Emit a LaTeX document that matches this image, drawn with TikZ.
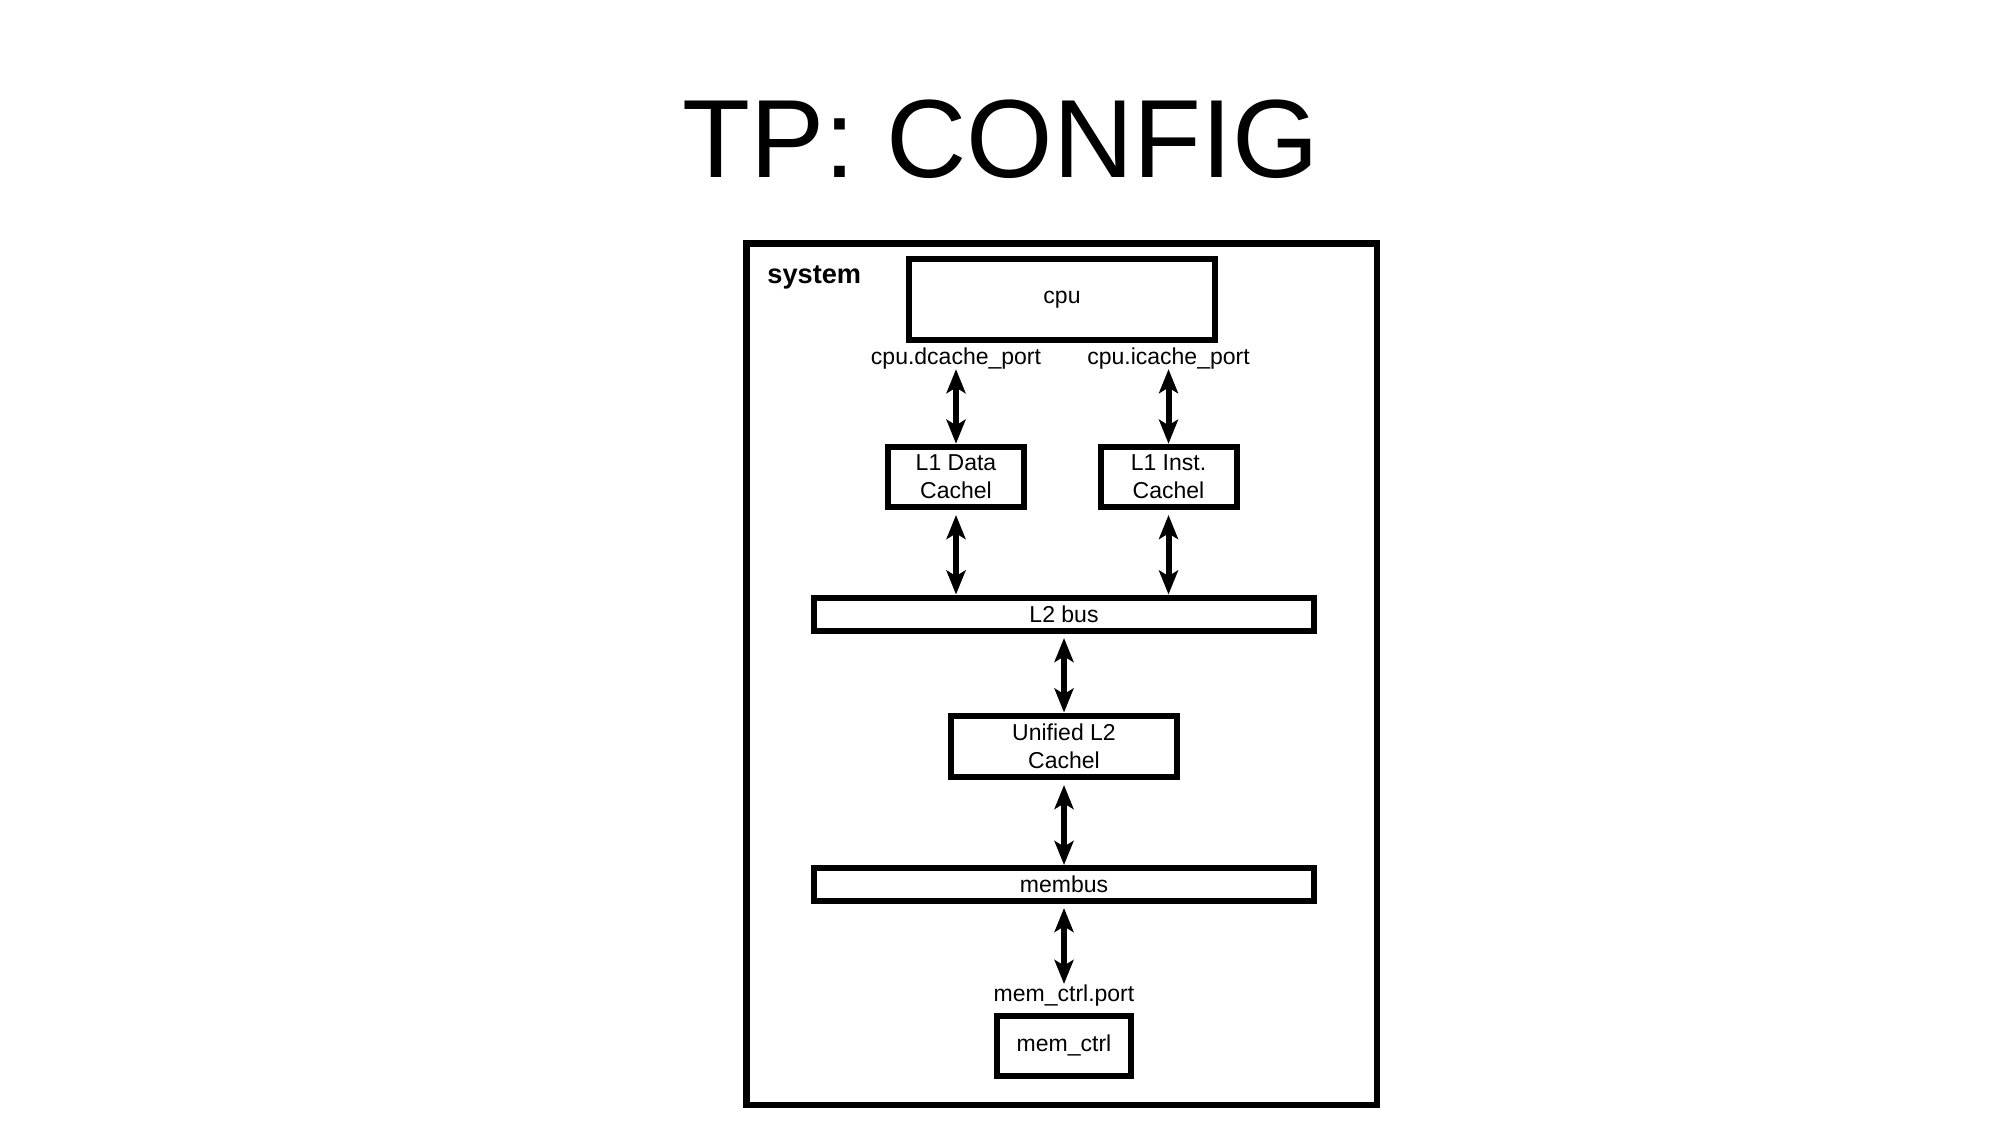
\documentclass[tikz,border=0pt]{standalone}
\usepackage{fontspec}
\setmainfont{Liberation Sans}
\usetikzlibrary{arrows.meta}
\newdimen\pxu \pxu=0.5pt
\begin{document}
\begin{tikzpicture}[x=0.5pt,y=-0.5pt,
  box/.style={draw, line width=3pt, inner sep=0pt, align=center, fill=white,
    font=\fontsize{11.5pt}{14.3pt}\selectfont},
  lbl/.style={inner sep=0pt, anchor=base, font=\fontsize{11.5pt}{14.3pt}\selectfont},
  tipend/.tip={Stealth[length=12pt,width=9.5pt,inset=2.8pt]},
  link/.style={line width=3pt, tipend-tipend}
]
\fill[white] (0,0) rectangle (2000,1124);
\useasboundingbox (0,0) rectangle (2000,1124);
\node[font=\fontsize{55.6pt}{66pt}\selectfont, anchor=base, inner sep=0pt] (title) at (1000.7,177) {TP: CONFIG};
\node[draw, line width=3.4pt, minimum width=630.5\pxu, minimum height=861.5\pxu, inner sep=0pt] (system) at (1061.75,674.25) {};
\node[font=\bfseries\fontsize{13.6pt}{16pt}\selectfont, anchor=base west, inner sep=0pt] (syslabel) at (767,283) {system};
\node[box, minimum width=306\pxu, minimum height=81\pxu] (cpu) at (1062,299.5) {cpu};
\node[box, minimum width=135.5\pxu, minimum height=60.3\pxu] (l1d) at (956,476.85) {L1 Data\\Cachel};
\node[box, minimum width=136\pxu, minimum height=60.3\pxu] (l1i) at (1168.5,476.85) {L1 Inst.\\Cachel};
\node[box, minimum width=499.5\pxu, minimum height=33.5\pxu] (l2bus) at (1064,614.25) {L2 bus};
\node[box, minimum width=226.5\pxu, minimum height=61.5\pxu] (l2) at (1064,746.25) {Unified L2\\Cachel};
\node[box, minimum width=499.5\pxu, minimum height=33\pxu] (membus) at (1064,884.5) {membus};
\node[box, minimum width=133.5\pxu, minimum height=60\pxu] (memctrl) at (1064,1045.5) {mem\_ctrl};
\node[lbl] (dport) at (956,364) {cpu.dcache\_port};
\node[lbl] (iport) at (1168.5,364) {cpu.icache\_port};
\node[lbl] (mport) at (1064,1001) {mem\_ctrl.port};
\draw[link] (dport.south) -- (l1d.north);
\draw[link] (iport.south) -- (l1i.north);
\draw[link, shorten <=2.5pt] (l1d.south) -- (l1d.south |- l2bus.north);
\draw[link, shorten <=2.5pt] (l1i.south) -- (l1i.south |- l2bus.north);
\draw[link, shorten <=2pt] (l2bus.south -| l2) -- (l2.north);
\draw[link, shorten <=2.5pt] (l2.south) -- (l2.south |- membus.north);
\draw[link, shorten <=2pt] (membus.south -| mport) -- (mport.north);
\end{tikzpicture}
\end{document}
